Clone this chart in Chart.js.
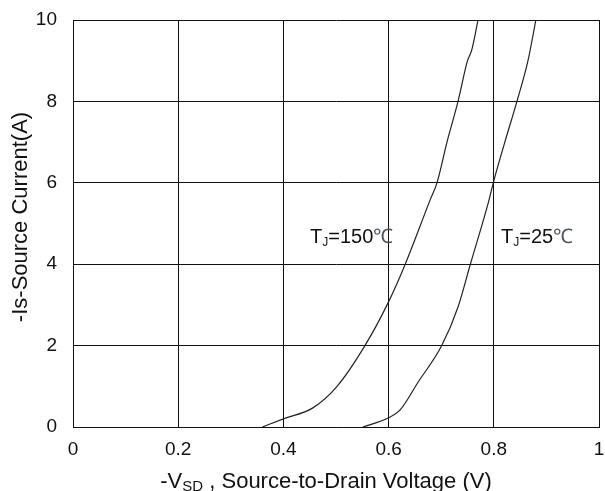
<!DOCTYPE html>
<html><head><meta charset="utf-8">
<script src="https://cdn.jsdelivr.net/npm/chart.js@4/dist/chart.umd.min.js"></script>
<style>html,body{margin:0;padding:0;background:#fff}#wrap{width:605px;height:491px}</style>
</head><body><div id="wrap"><canvas id="c" width="605" height="491"></canvas></div>
<script>
const xTicks = [0, 0.2, 0.4, 0.6, 0.8, 1];
const yTicks = [0, 2, 4, 6, 8, 10];
const vsd150 = [0.36, 0.40, 0.456, 0.502, 0.555, 0.599, 0.631, 0.679, 0.692, 0.711, 0.732, 0.750, 0.758, 0.770];
const is150  = [0, 0.2, 0.47, 1.0, 2.0, 3.05, 3.98, 5.58, 6.0, 7.0, 8.0, 9.0, 9.26, 10];
const vsd25  = [0.551, 0.599, 0.622, 0.656, 0.701, 0.732, 0.755, 0.791, 0.799, 0.821, 0.844, 0.865, 0.880];
const is25   = [0, 0.22, 0.42, 1.1, 2.0, 2.95, 3.98, 5.58, 6.0, 7.0, 8.0, 9.0, 10];
const labels150 = ['T', 'J', '=150', '℃'];
const labels25 = ['T', 'J', '=25', '℃'];
const xTitle = ['-V', 'SD', ' , Source-to-Drain Voltage (V)'];
const yTitle = '-Is-Source Current(A)';

const FONT = "'Liberation Sans', Arial, sans-serif";
const pts = (xs, ys) => xs.map((x, i) => ({x, y: ys[i]}));

function drawTJ(ctx, parts, x, y) {
  ctx.save();
  ctx.textBaseline = 'alphabetic';
  ctx.textAlign = 'left';
  ctx.fillStyle = '#111';
  ctx.font = '20px ' + FONT;
  ctx.fillText(parts[0], x, y); x += ctx.measureText(parts[0]).width;
  ctx.font = '12px ' + FONT;
  ctx.fillText(parts[1], x, y + 3); x += ctx.measureText(parts[1]).width;
  ctx.font = '20px ' + FONT;
  ctx.fillText(parts[2], x, y); x += ctx.measureText(parts[2]).width;
  ctx.fillStyle = '#4a5560';
  ctx.font = '20px ' + FONT;
  ctx.fillText(parts[3], x, y);
  ctx.restore();
}

const titlePlugin = {
  id: 'titles',
  afterDraw(chart) {
    const ctx = chart.ctx;
    drawTJ(ctx, labels150, 310, 243);
    drawTJ(ctx, labels25, 501, 243);
    ctx.save();
    ctx.fillStyle = '#111';
    ctx.font = '22px ' + FONT;
    ctx.translate(27, 217);
    ctx.rotate(-Math.PI / 2);
    ctx.textAlign = 'center';
    ctx.textBaseline = 'alphabetic';
    ctx.fillText(yTitle, 0, 0);
    ctx.restore();
    ctx.save();
    ctx.fillStyle = '#111';
    ctx.textBaseline = 'alphabetic';
    ctx.textAlign = 'left';
    const big = '22px ' + FONT, small = '15px ' + FONT;
    ctx.font = big; const w0 = ctx.measureText(xTitle[0]).width, w2 = ctx.measureText(xTitle[2]).width;
    ctx.font = small; const w1 = ctx.measureText(xTitle[1]).width;
    let x = 326 - (w0 + w1 + w2) / 2; const y = 488;
    ctx.font = big; ctx.fillText(xTitle[0], x, y); x += w0;
    ctx.font = small; ctx.fillText(xTitle[1], x, y + 3); x += w1;
    ctx.font = big; ctx.fillText(xTitle[2], x, y);
    ctx.restore();
  }
};

new Chart(document.getElementById('c'), {
  type: 'line',
  data: {
    datasets: [
      {data: pts(vsd150, is150), borderColor: '#222', borderWidth: 1.2, pointRadius: 0, fill: false, cubicInterpolationMode: 'monotone'},
      {data: pts(vsd25, is25), borderColor: '#222', borderWidth: 1.2, pointRadius: 0, fill: false, cubicInterpolationMode: 'monotone'}
    ]
  },
  options: {
    responsive: false,
    animation: false,
    devicePixelRatio: 1,
    layout: {padding: {left: 0, right: 6, top: 20, bottom: 0}},
    plugins: {legend: {display: false}, tooltip: {enabled: false}},
    scales: {
      x: {
        type: 'linear', min: 0, max: 1,
        afterBuildTicks: s => { s.ticks = xTicks.map(v => ({value: v})); },
        afterFit: s => { s.height = 64; s.paddingLeft = 0; s.paddingRight = 0; },
        grid: {color: '#111', lineWidth: 1, drawTicks: false},
        border: {color: '#111', width: 1},
        ticks: {color: '#111', font: {family: FONT, size: 19}, padding: 11, maxRotation: 0,
                callback: v => String(v)}
      },
      y: {
        type: 'linear', min: 0, max: 10,
        afterBuildTicks: s => { s.ticks = yTicks.map(v => ({value: v})); },
        afterFit: s => { s.width = 73; s.paddingTop = 0; s.paddingBottom = 0; },
        grid: {color: '#111', lineWidth: 1, drawTicks: false},
        border: {color: '#111', width: 1},
        ticks: {color: '#111', font: {family: FONT, size: 19}, padding: 16, callback: v => String(v)}
      }
    }
  },
  plugins: [titlePlugin]
});
</script></body></html>
